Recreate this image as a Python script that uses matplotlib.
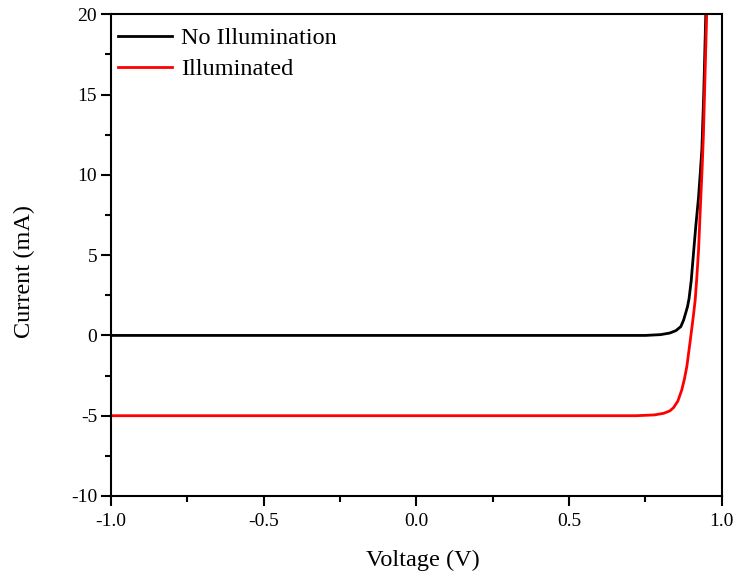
import matplotlib
matplotlib.use('Agg')
import matplotlib.pyplot as plt
from matplotlib.ticker import MultipleLocator, FormatStrFormatter

plt.rcParams['font.family'] = ['Liberation Serif', 'DejaVu Serif']
plt.rcParams['axes.unicode_minus'] = False

# Curva sin iluminacion
v_oscuro = [-1.0, 0.75, 0.80, 0.83, 0.85, 0.866, 0.875, 0.882, 0.888, 0.893, 0.900,
            0.907, 0.915, 0.924, 0.930, 0.935, 0.941, 0.948]
i_oscuro = [0.0, 0.0, 0.05, 0.15, 0.3, 0.55, 0.95, 1.4, 1.8, 2.3, 3.4,
            5.0, 6.8, 8.6, 10.2, 11.6, 15.0, 20.2]

# Curva iluminada
v_luz = [-1.0, 0.72, 0.78, 0.81, 0.83, 0.842, 0.856, 0.869, 0.878, 0.886,
         0.897, 0.907, 0.913, 0.918, 0.924, 0.931, 0.936, 0.940, 0.946, 0.951]
i_luz = [-5.0, -5.0, -4.95, -4.85, -4.7, -4.5, -4.1, -3.4, -2.7, -1.9,
         -0.3, 1.2, 2.2, 3.5, 5.3, 8.4, 10.5, 12.5, 16.7, 20.2]

fig = plt.figure(figsize=(7.34, 5.76), dpi=100)
ax = fig.add_axes([0.1512, 0.1389, 0.8321, 0.8363])

ax.plot(v_oscuro, i_oscuro, color='black', lw=2, label='No Illumination')
ax.plot(v_luz, i_luz, color='red', lw=2, label='Illuminated')

ax.set_xlim(-1.0, 1.0)
ax.set_ylim(-10, 20)
ax.xaxis.set_major_locator(MultipleLocator(0.5))
ax.xaxis.set_minor_locator(MultipleLocator(0.25))
ax.yaxis.set_major_locator(MultipleLocator(5))
ax.yaxis.set_minor_locator(MultipleLocator(2.5))
ax.xaxis.set_major_formatter(FormatStrFormatter('%.1f'))

for s in ax.spines.values():
    s.set_linewidth(1.5)
ax.tick_params(which='major', direction='out', length=7, width=1.5, labelsize=14)
ax.tick_params(axis='x', which='major', pad=5)
ax.tick_params(axis='y', which='major', pad=3)
ax.tick_params(which='minor', direction='out', length=4, width=1.5)

ax.set_xlabel('Voltage (V)', fontsize=17.5)
ax.xaxis.set_label_coords(0.51, -0.112)
ax.set_ylabel('Current (mA)', fontsize=17.5)
ax.yaxis.set_label_coords(-0.124, 0.467)

ax.legend(loc='upper left', bbox_to_anchor=(0, 0.988), frameon=False,
          fontsize=17.5, handlelength=2.2, handletextpad=0.37,
          labelspacing=0.37, borderaxespad=0.3, borderpad=0.0)

fig.savefig('out.png', dpi=100)
